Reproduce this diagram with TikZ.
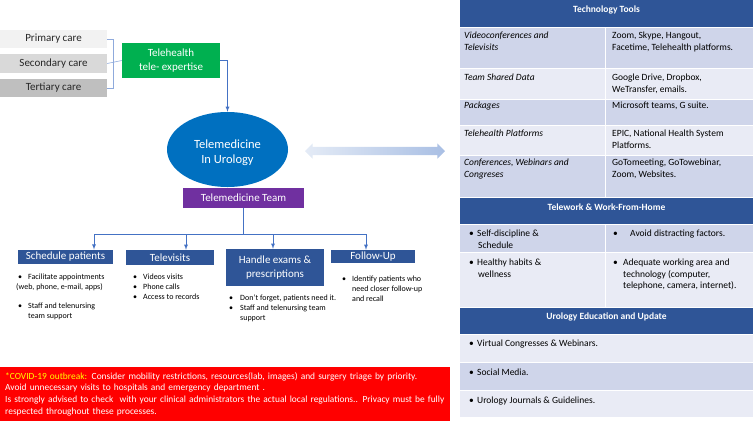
\documentclass[tikz,border=0pt]{standalone}
\usepackage{fontspec}
\setmainfont{Carlito}
\usetikzlibrary{shapes.geometric,shapes.arrows}

\definecolor{hdrblue}{HTML}{2F5597}
\definecolor{rowdark}{HTML}{CFD5EA}
\definecolor{rowlight}{HTML}{E9EBF5}
\definecolor{ovalblue}{HTML}{0070C0}
\definecolor{telegreen}{HTML}{00B050}
\definecolor{teampurple}{HTML}{7030A0}
\definecolor{linkblue}{HTML}{4472C4}
\definecolor{brkblue}{HTML}{8FAADC}
\definecolor{careA}{HTML}{F2F2F2}
\definecolor{careB}{HTML}{D9D9D9}
\definecolor{careC}{HTML}{BFBFBF}
\definecolor{covidyellow}{HTML}{FFFF00}
\definecolor{arrowA}{HTML}{E4EBF6}
\definecolor{arrowB}{HTML}{A9BFE4}

\newcommand{\bul}{\textbullet}
\newcommand{\blist}[2][10pt]{\begin{tabular}[t]{@{}p{#1}@{}l@{}}#2\end{tabular}}

\tikzset{
  care/.style={minimum width=107pt, minimum height=18pt, inner sep=0pt,
    text=black!85, font=\fontsize{11}{13}\selectfont},
  topicbox/.style={fill=hdrblue, text=white, inner sep=0pt, align=center,
    font=\fontsize{11}{13.5}\selectfont},
  lst/.style={anchor=north west, inner sep=0pt, align=left,
    font=\fontsize{8}{9.6}\selectfont},
  cell/.style={anchor=north west, inner sep=0pt, align=left,
    font=\fontsize{9.5}{11.7}\selectfont},
  thead/.style={text=white, inner sep=0pt, font=\bfseries\fontsize{9.5}{11}\selectfont},
  link/.style={draw=linkblue, line width=0.8pt},
}

\begin{document}
\begin{tikzpicture}[x=1pt, y=-1pt, >=latex]
  \useasboundingbox (0,0) rectangle (753,421);

  % levels of care
  \node[care, fill=careA] (prim) at (53.5,39) {Primary care};
  \node[care, fill=careB, minimum height=19pt] (sec) at (53.5,63.5) {Secondary care};
  \node[care, fill=careC] (tert) at (53.5,88) {Tertiary care};
  \node[fill=telegreen, text=white, minimum width=98pt, minimum height=35pt,
    inner sep=0pt, align=center, font=\fontsize{11}{13.4}\selectfont]
    (tele) at (171,60.5) {Telehealth\\tele- expertise};
  \draw[draw=brkblue, line width=0.6pt] (prim.east) -- ++(6,0) coordinate (brk)
    -- (brk |- tert.east) -- (tert.east);
  \draw[draw=brkblue, line width=0.6pt] (sec.east) -- (tele.west);

  % centre
  \node[ellipse, fill=ovalblue, text=white, minimum width=121pt, minimum height=75pt,
    inner sep=0pt, align=center, font=\fontsize{12.5}{15.5}\selectfont]
    (uro) at (227.5,149.5) {\rule{0pt}{15pt}Telemedicine\\In Urology};
  \draw[link, ->] (tele.east) -| (uro.north);
  \node[fill=teampurple, text=white, minimum width=121pt, minimum height=20pt,
    inner sep=0pt, font=\fontsize{11}{13}\selectfont] (team) at (243.5,198) {Telemedicine Team};
  \node[double arrow, double arrow head extend=3.5pt, minimum height=140pt,
    inner sep=0pt, left color=arrowA, right color=arrowB] (bridge) at (375,151) {\rule{0pt}{8pt}};

  % team tasks
  \node[topicbox, minimum width=95pt, minimum height=14pt] (sched) at (65.5,256.75) {Schedule patients};
  \node[topicbox, minimum width=88pt, minimum height=15pt] (tvis) at (170,257.5) {Televisits};
  \node[topicbox, minimum width=98pt, minimum height=37pt] (hexam) at (275,267.5) {Handle exams \&\\prescriptions};
  \node[topicbox, minimum width=84pt, minimum height=13pt] (fup) at (373,256.5) {Follow-Up};
  \draw[link] (team.south) -- ++(0,26) coordinate (bus);
  \foreach \b/\dx in {sched/28.5, tvis/16, hexam/-2, fup/-7}
    \draw[link, ->] (bus) -| ([xshift=\dx pt]\b.north);

  \node[lst] (schedL) at (16,273) {\blist[12pt]{\hspace{2pt}\bul & Facilitate appointments\\
    \multicolumn{2}{@{}l@{}}{(web, phone, e-mail, apps)}\\[9.5pt]
    \hspace{2pt}\bul & Staff and telenursing\\ & team support}};
  \node[lst] (tvisL) at (132,273) {\blist[11pt]{\hspace{1pt}\bul & Videos visits\\
    \hspace{1pt}\bul & Phone calls\\ \hspace{1pt}\bul & Access to records}};
  \node[lst] (hexamL) at (228,294) {\blist[12pt]{\hspace{1pt}\bul & Don't forget, patients need it.\\
    \hspace{1pt}\bul & Staff and telenursing team\\ & support}};
  \node[lst] (fupL) at (341,275) {\blist[11pt]{\hspace{1pt}\bul & Identify patients who\\
    & need closer follow-up\\ & and recall}};

  % covid note
  \node[fill=red, text=white, anchor=north west, minimum width=447pt, minimum height=54pt,
    text width=440pt, inner xsep=5pt, inner ysep=0pt, align=left,
    font=\fontsize{9.4}{11.7}\selectfont] (covid) at (0,367)
    {\textcolor{covidyellow}{*COVID-19 outbreak:} Consider mobility restrictions, resources(lab, images) and surgery triage by priority.\\
     Avoid unnecessary visits to hospitals and emergency department .\\
     Is strongly advised to check\ \ with your clinical administrators the actual local regulations.. Privacy must be fully\\
     respected throughout these processes.};

  % table of tools
  \foreach \ta/\tb/\col in {0/27/hdrblue, 27/68/rowdark, 68/99/rowlight, 99/125/rowdark,
      125/155/rowlight, 155/197/rowdark, 197/224/hdrblue, 224/252/rowdark, 252/307/rowlight,
      307/334/hdrblue, 334/362/rowlight, 362/390/rowdark, 390/417/rowlight}
    \fill[\col] (460,\ta) rectangle (753,\tb);
  \foreach \y in {27,68,99,125,155,197,224,252,307,334,362,390}
    \draw[white, line width=1pt] (460,\y) -- (753,\y);
  \draw[white, line width=1pt] (605,27) -- (605,197) (605,224) -- (605,307);

  \node[thead] (hTech) at (606.5,10) {Technology Tools};
  \node[thead] (hWork) at (606.5,207) {Telework \& Work-From-Home};
  \node[thead] (hEdu) at (606.5,317) {Urology Education and Update};

  \node[cell] (c1a) at (464,32) {\itshape Videoconferences and\\\itshape Televisits};
  \node[cell] (c1b) at (612,32) {Zoom, Skype, Hangout,\\Facetime, Telehealth platforms.};
  \node[cell] (c2a) at (464,74) {\itshape Team Shared Data};
  \node[cell] (c2b) at (612,74) {Google Drive, Dropbox,\\WeTransfer, emails.};
  \node[cell] (c3a) at (464,102) {\itshape Packages};
  \node[cell] (c3b) at (612,102) {Microsoft teams, G suite.};
  \node[cell] (c4a) at (464,130) {\itshape Telehealth Platforms};
  \node[cell] (c4b) at (612,130) {EPIC, National Health System\\Platforms.};
  \node[cell] (c5a) at (464,159) {\itshape Conferences, Webinars and\\\itshape Congreses};
  \node[cell] (c5b) at (612,159) {GoTomeeting, GoTowebinar,\\Zoom, Websites.};

  \node[cell] (w1a) at (469,228) {\blist[8pt]{\bul & Self-discipline \&\\ & \hspace{1pt}Schedule}};
  \node[cell] (w1b) at (613,228) {\blist[17pt]{\bul & Avoid distracting factors.}};
  \node[cell] (w2a) at (469,257) {\blist[8pt]{\bul & Healthy habits \&\\ & \hspace{1pt}wellness}};
  \node[cell] (w2b) at (613,257) {\blist[10pt]{\bul & Adequate working area and\\
    & technology (computer,\\ & telephone, camera, internet).}};

  \node[cell] (e1) at (469,338) {\blist[8pt]{\bul & Virtual Congresses \& Webinars.}};
  \node[cell] (e2) at (469,367) {\blist[8pt]{\bul & Social Media.}};
  \node[cell] (e3) at (469,395) {\blist[8pt]{\bul & Urology Journals \& Guidelines.}};
\end{tikzpicture}
\end{document}
